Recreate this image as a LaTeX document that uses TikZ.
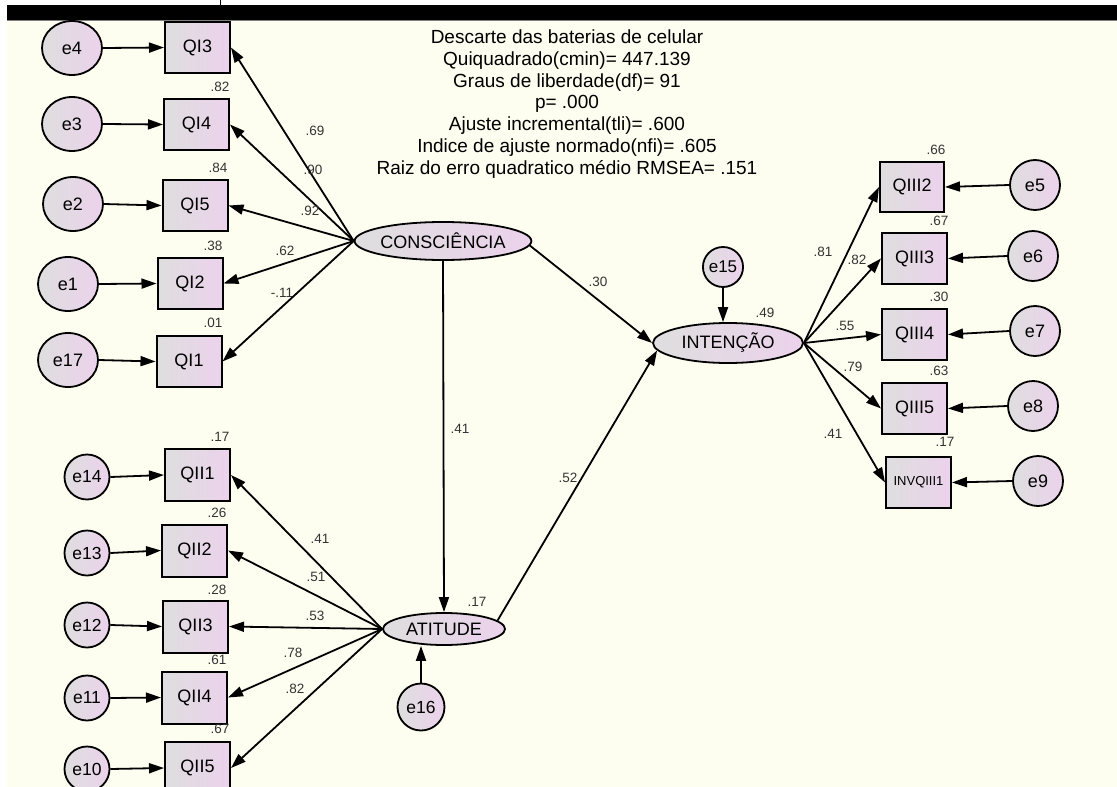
\documentclass[tikz,border=0pt]{standalone}
\usepackage{fontspec}
\setmainfont{Liberation Sans}
\usetikzlibrary{arrows.meta,shapes.geometric}
\definecolor{creme}{RGB}{253,253,240}
\definecolor{cinzaf}{RGB}{222,222,222}
\definecolor{rosaf}{RGB}{236,210,236}

\begin{document}
\begin{tikzpicture}[x=1pt,y=-1pt,
  every node/.style={font=\fontsize{18}{20}\selectfont},
  obs/.style={draw,line width=2pt,rectangle,minimum width=65pt,minimum height=51pt,
    inner sep=0pt,left color=cinzaf,right color=rosaf},
  erro/.style={draw,line width=1.8pt,ellipse,inner sep=0pt,left color=cinzaf,right color=rosaf},
  lat/.style={draw,line width=1.8pt,ellipse,inner sep=0pt,left color=cinzaf,right color=rosaf},
  coef/.style={font=\fontsize{13.5}{15}\selectfont,text=black!80,inner sep=0pt},
  seta/.style={-{Triangle[length=15pt,width=10pt]},line width=1.8pt}]
\useasboundingbox (0,0) rectangle (1117,787);
\fill[white] (0,0) rectangle (1117,787);
\fill[creme] (7,20) rectangle (1117,787);
\fill[black] (7,5) rectangle (1117,20);
\draw[gray,line width=1pt] (7,20.5) -- (1117,20.5);
\fill[black] (219.5,0) rectangle (221,5);

% titulo
\node[align=center,font=\fontsize{19}{21.7}\selectfont] (titulo) at (567,104)
  {Descarte das baterias de celular\\Quiquadrado(cmin)= 447.139\\Graus de liberdade(df)= 91\\
   p= .000\\Ajuste incremental(tli)= .600\\Indice de ajuste normado(nfi)= .605\\
   Raiz do erro quadratico médio RMSEA= .151};

% latentes
\node[lat,minimum width=148pt,minimum height=38pt] (consc) at (443,241) {CONSCIÊNCIA};
\node[lat,minimum width=150pt,minimum height=40pt] (inten) at (728,343) {INTENÇÃO};
\node[lat,minimum width=122pt,minimum height=32pt] (atit) at (444,629) {ATITUDE};

% bloco consciencia
\node[obs] (qi3) at (197.5,47.5) {QI3};
\node[obs] (qi4) at (196.5,124.5) {QI4};
\node[obs] (qi5) at (195,205.5) {QI5};
\node[obs] (qi2) at (190,283.5) {QI2};
\node[obs] (qi1) at (189,361.5) {QI1};
\node[erro,minimum width=60pt,minimum height=54pt] (e4) at (72,48) {e4};
\node[erro,minimum width=60pt,minimum height=54pt] (e3) at (72,124) {e3};
\node[erro,minimum width=60pt,minimum height=54pt] (e2) at (73,204) {e2};
\node[erro,minimum width=60pt,minimum height=54pt] (e1) at (68,284) {e1};
\node[erro,minimum width=60pt,minimum height=54pt] (e17) at (68,360) {e17};

% bloco intencao
\node[obs,minimum width=64pt,minimum height=50pt] (q32) at (912,187) {QIII2};
\node[obs] (q33) at (914.5,258.5) {QIII3};
\node[obs] (q34) at (914.5,334.5) {QIII4};
\node[obs] (q35) at (914.5,408.5) {QIII5};
\node[obs,font=\fontsize{13}{15}\selectfont] (inv) at (918.5,482.5) {INVQIII1};
\node[erro,minimum size=50pt] (e5) at (1035,185) {e5};
\node[erro,minimum size=50pt] (e6) at (1033,256) {e6};
\node[erro,minimum size=50pt] (e7) at (1035,331) {e7};
\node[erro,minimum size=50pt] (e8) at (1033,406) {e8};
\node[erro,minimum size=50pt] (e9) at (1038,481) {e9};
\node[erro,minimum size=40pt,font=\fontsize{17}{19}\selectfont] (e15) at (723,267) {e15};

% bloco atitude
\node[obs,minimum height=52pt] (qii1) at (197.5,475) {QII1};
\node[obs,minimum height=52pt] (qii2) at (194.5,550.5) {QII2};
\node[obs,minimum height=52pt] (qii3) at (195.5,626.5) {QII3};
\node[obs,minimum height=52pt] (qii4) at (194.5,697.5) {QII4};
\node[obs,minimum height=52pt] (qii5) at (197.5,768) {QII5};
\node[erro,minimum size=45pt,font=\fontsize{17.5}{19}\selectfont] (e14) at (87,477) {e14};
\node[erro,minimum size=45pt,font=\fontsize{17.5}{19}\selectfont] (e13) at (87,553) {e13};
\node[erro,minimum size=45pt,font=\fontsize{17.5}{19}\selectfont] (e12) at (87,625) {e12};
\node[erro,minimum size=45pt,font=\fontsize{17.5}{19}\selectfont] (e11) at (87,698) {e11};
\node[erro,minimum size=45pt,font=\fontsize{17.5}{19}\selectfont] (e10) at (87,769) {e10};
\node[erro,minimum size=47pt,font=\fontsize{17.5}{19}\selectfont] (e16) at (421,707) {e16};

% setas
\foreach \e/\q in {e4/qi3,e3/qi4,e2/qi5,e1/qi2,e17/qi1}
  \draw[seta] (\e.east) -- (\q.west);
\foreach \q in {qi3,qi4,qi5,qi2,qi1}
  \draw[seta] (consc.west) -- (\q.east);
\foreach \q in {q32,q33,q34,q35,inv}
  \draw[seta] (inten.east) -- (\q.west);
\foreach \e/\q in {e5/q32,e6/q33,e7/q34,e8/q35,e9/inv}
  \draw[seta] (\e.west) -- (\q.east);
\foreach \e/\q in {e14/qii1,e13/qii2,e12/qii3,e11/qii4,e10/qii5}
  \draw[seta] (\e.east) -- (\q.west);
\foreach \q in {qii1,qii2,qii3,qii4,qii5}
  \draw[seta] (atit.west) -- (\q.east);
\draw[seta] (consc.-3) -- (inten.west);
\draw[seta] (consc.south) -- (atit.north);
\draw[seta] (atit.9) -- (inten.186);
\draw[seta] (e15.south) -- (e15.south |- inten.north);
\draw[seta] (e16.north) -- (e16.north |- atit.south);

% coeficientes
\node[coef] (r82) at (220,87) {.82};
\node[coef] (r84) at (218,168) {.84};
\node[coef] (r38) at (213,246) {.38};
\node[coef] (r01) at (213,323) {.01};
\node[coef] (c69) at (315,131) {.69};
\node[coef] (c90) at (313,170) {.90};
\node[coef] (c92) at (310,211) {.92};
\node[coef] (c62) at (285,251) {.62};
\node[coef] (c11) at (282,293) {-.11};
\node[coef] (c30) at (598,282) {.30};
\node[coef] (c41) at (460,429) {.41};
\node[coef] (c52) at (568,478) {.52};
\node[coef] (r49) at (765,313) {.49};
\node[coef] (r17a) at (477,602) {.17};
\node[coef] (c81) at (823,252) {.81};
\node[coef] (c82) at (857,260) {.82};
\node[coef] (c55) at (845,326) {.55};
\node[coef] (c79) at (853,367) {.79};
\node[coef] (c41b) at (833,434) {.41};
\node[coef] (r66) at (936,150) {.66};
\node[coef] (r67) at (939,221) {.67};
\node[coef] (r30) at (939,297) {.30};
\node[coef] (r63) at (939,371) {.63};
\node[coef] (r17b) at (945,442) {.17};
\node[coef] (c41c) at (320,539) {.41};
\node[coef] (c51) at (316,577) {.51};
\node[coef] (c53) at (315,616) {.53};
\node[coef] (c78) at (293,653) {.78};
\node[coef] (c82b) at (295,689) {.82};
\node[coef] (r17c) at (220,437) {.17};
\node[coef] (r26) at (217,513) {.26};
\node[coef] (r28) at (217,590) {.28};
\node[coef] (r61) at (217,660) {.61};
\node[coef] (r67b) at (220,729) {.67};
\end{tikzpicture}
\end{document}
